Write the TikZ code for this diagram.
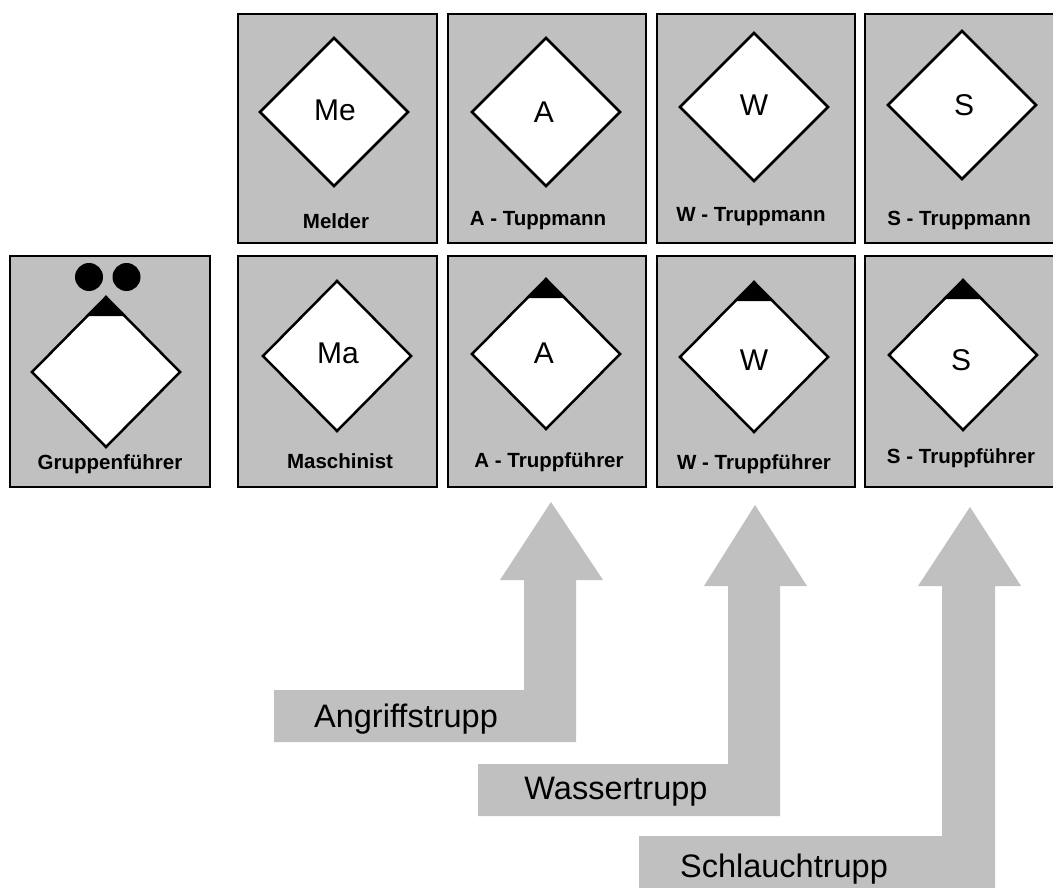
\documentclass[tikz,border=0pt]{standalone}
\usepackage{fontspec}
\setmainfont{Liberation Sans}
\definecolor{boxgray}{RGB}{192,192,192}
\tikzset{
  cellbox/.style={draw=black,fill=boxgray,line width=2.9},
  rautebox/.style={draw=black,fill=white,line width=2.5},
  spitze/.style={fill=black},
  truppfeil/.style={fill=boxgray},
  zeichen/.style={font=\fontsize{30}{30}\selectfont},
  rolle/.style={font=\fontsize{20.5}{20.5}\selectfont\bfseries},
  trupp/.style={font=\fontsize{32.5}{32.5}\selectfont}
}
\begin{document}
\begin{tikzpicture}[x=1pt,y=-1pt]
\useasboundingbox (0,0) rectangle (1053,888);
\fill[white] (0,0) rectangle (1053,888);

% cells: x0, x1, y0, y1
\foreach \xa/\xb/\ya/\yb in {238/437/14/243,448/646/14/243,657/855/14/243,865/1060/14/243,
  10/210/256/487,238/437/256/487,448/646/256/487,657/855/256/487,865/1060/256/487}
  \draw[cellbox] (\xa,\ya) rectangle (\xb,\yb);

% diamonds without the black top
\foreach \cx/\cy/\h/\tx/\ty/\name/\txt in {334/112/74/335/110/me/Me,546/112/74/544/112/at/A,
  754/107/74/754/105/wt/W,962/105/74/964/105/st/S,337/356/75/338/353/ma/Ma}{
  \draw[rautebox] (\cx,\cy-\h) -- (\cx+74,\cy) -- (\cx,\cy+\h) -- (\cx-74,\cy) -- cycle;
  \node[zeichen] (\name) at (\tx,\ty) {\txt};
}

% diamonds with the black top
\foreach \cx/\cy/\tx/\ty/\name/\txt in {106/372/106/372/gf/{},546/354/544/353/af/A,
  754/357/754/360/wf/W,963/355/961/360/sf/S}{
  \draw[rautebox] (\cx,\cy-75) -- (\cx+74,\cy) -- (\cx,\cy+75) -- (\cx-74,\cy) -- cycle;
  \fill[spitze] (\cx,\cy-76) -- (\cx+19,\cy-56) -- (\cx-19,\cy-56) -- cycle;
  \node[zeichen] (\name) at (\tx,\ty) {\txt};
}

\fill (89,277) circle[radius=14];
\fill (126.5,277) circle[radius=14];

% role labels
\node[rolle] (melder) at (336,221) {Melder};
\node[rolle] (atm) at (538,221) {A - Tuppmann};
\node[rolle] (wtm) at (751,217) {W - Truppmann};
\node[rolle] (stm) at (959,220) {S - Truppmann};
\node[rolle] (gruppf) at (110,464) {Gruppenführer};
\node[rolle] (masch) at (340,461) {Maschinist};
\node[rolle] (atf) at (549,462) {A - Truppführer};
\node[rolle] (wtf) at (754,464) {W - Truppführer};
\node[rolle] (stf) at (961,458) {S - Truppführer};

% arrows
\fill[truppfeil] (274,690)--(524,690)--(524,580)--(500,580)--(551,502)--(603,580)--(576,580)--(576,742)--(274,742)--cycle;
\fill[truppfeil] (478,764)--(728,764)--(728,586)--(704,586)--(755,505)--(807,586)--(780,586)--(780,816)--(478,816)--cycle;
\fill[truppfeil] (639,836)--(942,836)--(942,586)--(918,586)--(970,507)--(1021,586)--(995,586)--(995,888)--(639,888)--cycle;

\node[trupp] (angriff) at (406,719) {Angriffstrupp};
\node[trupp] (wasser) at (616,792) {Wassertrupp};
\node[trupp] (schlauch) at (784,869) {Schlauchtrupp};
\end{tikzpicture}
\end{document}
